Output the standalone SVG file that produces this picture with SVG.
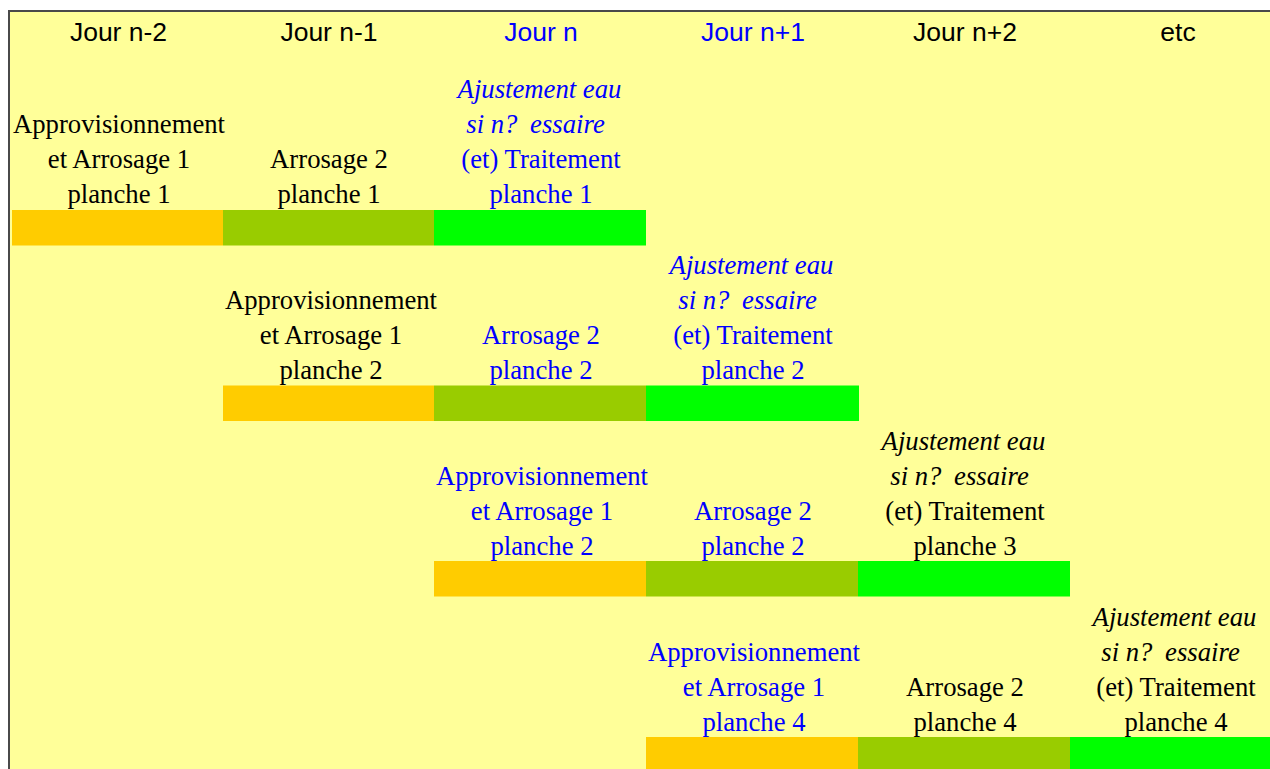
<svg xmlns="http://www.w3.org/2000/svg" width="1270" height="769" viewBox="0 0 1270 769">
<style>
.h{font-family:"Liberation Sans",Arial,sans-serif;font-size:26.5px;text-anchor:middle}
.t{font-family:"Liberation Serif","Times New Roman",serif;font-size:26.7px;text-anchor:middle}
.i{font-style:italic}
.k{fill:#000}
.b{fill:#0000FF}
.o{fill:#FFCC00}
.v{fill:#99CC00}
.g{fill:#00FF00}
</style>
<rect x="0" y="0" width="1270" height="769" fill="#FFFFFF"/>
<rect x="10" y="11" width="1260" height="758" fill="#FFFF99"/>
<line x1="8" y1="11" x2="1270" y2="11" stroke="#4a4a4a" stroke-width="2"/>
<line x1="9" y1="10" x2="9" y2="769" stroke="#4a4a4a" stroke-width="2"/>
<g id="headers">
<text class="h k" x="118.5" y="41">Jour n-2</text>
<text class="h k" x="329" y="41">Jour n-1</text>
<text class="h b" x="541" y="41">Jour n</text>
<text class="h b" x="753" y="41">Jour n+1</text>
<text class="h k" x="965" y="41">Jour n+2</text>
<text class="h k" x="1178" y="41">etc</text>
</g>
<g id="bars">
<rect class="o" x="12" y="210" width="211" height="35.5"/>
<rect class="v" x="223" y="210" width="211" height="35.5"/>
<rect class="g" x="434" y="210" width="212" height="35.5"/>
<rect class="o" x="223" y="385.5" width="211" height="35.5"/>
<rect class="v" x="434" y="385.5" width="212" height="35.5"/>
<rect class="g" x="646" y="385.5" width="213" height="35.5"/>
<rect class="o" x="434" y="561" width="212" height="35.5"/>
<rect class="v" x="646" y="561" width="212" height="35.5"/>
<rect class="g" x="858" y="561" width="212" height="35.5"/>
<rect class="o" x="646" y="737" width="212" height="32"/>
<rect class="v" x="858" y="737" width="212" height="32"/>
<rect class="g" x="1070" y="737" width="200" height="32"/>
</g>
<g id="r1c1" class="t k">
<text x="119" y="132.5">Approvisionnement</text>
<text x="119" y="167.5">et Arrosage 1</text>
<text x="119" y="202.5">planche 1</text>
</g>
<g id="r1c2" class="t k">
<text x="329" y="167.5">Arrosage 2</text>
<text x="329" y="202.5">planche 1</text>
</g>
<g id="r1c3" class="t b">
<text class="i" x="539.5" y="97.5">Ajustement eau</text>
<text class="i" x="535.5" y="132.5">si n? <tspan dx="6">essaire</tspan></text>
<text x="541" y="167.5">(et) Traitement</text>
<text x="541" y="202.5">planche 1</text>
</g>
<g id="r2c2" class="t k">
<text x="331" y="308.5">Approvisionnement</text>
<text x="331" y="343.5">et Arrosage 1</text>
<text x="331" y="378.5">planche 2</text>
</g>
<g id="r2c3" class="t b">
<text x="541" y="343.5">Arrosage 2</text>
<text x="541" y="378.5">planche 2</text>
</g>
<g id="r2c4" class="t b">
<text class="i" x="751.5" y="273.5">Ajustement eau</text>
<text class="i" x="747.5" y="308.5">si n? <tspan dx="6">essaire</tspan></text>
<text x="753" y="343.5">(et) Traitement</text>
<text x="753" y="378.5">planche 2</text>
</g>
<g id="r3c3" class="t b">
<text x="542" y="484.5">Approvisionnement</text>
<text x="542" y="519.5">et Arrosage 1</text>
<text x="542" y="554.5">planche 2</text>
</g>
<g id="r3c4" class="t b">
<text x="753" y="519.5">Arrosage 2</text>
<text x="753" y="554.5">planche 2</text>
</g>
<g id="r3c5" class="t k">
<text class="i" x="963.5" y="449.5">Ajustement eau</text>
<text class="i" x="959.5" y="484.5">si n? <tspan dx="6">essaire</tspan></text>
<text x="965" y="519.5">(et) Traitement</text>
<text x="965" y="554.5">planche 3</text>
</g>
<g id="r4c4" class="t b">
<text x="754" y="660.5">Approvisionnement</text>
<text x="754" y="695.5">et Arrosage 1</text>
<text x="754" y="730.5">planche 4</text>
</g>
<g id="r4c5" class="t k">
<text x="965" y="695.5">Arrosage 2</text>
<text x="965" y="730.5">planche 4</text>
</g>
<g id="r4c6" class="t k">
<text class="i" x="1174.5" y="625.5">Ajustement eau</text>
<text class="i" x="1170.5" y="660.5">si n? <tspan dx="6">essaire</tspan></text>
<text x="1176" y="695.5">(et) Traitement</text>
<text x="1176" y="730.5">planche 4</text>
</g>
</svg>
